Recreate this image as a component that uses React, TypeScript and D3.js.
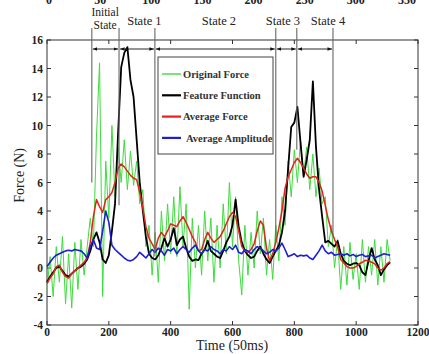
import React from "react";
import * as d3 from "d3";

const W = 429;
const H = 354;

// time axis samples (units of 50 ms), one every 10
const times = d3.range(0, 1111, 10);

const originalForce = [
  -1.5, 0.8, -2.0, 1.5, -1.0, 2.2, -2.5, 1.0, -2.8, 1.8,
  -1.5, 2.0, -0.5, 1.5, 3.5, 1.5, 9.2, 14.4, -2.0, 7.5,
  3.5, 10.0, 5.0, 8.5, 6.0, 9.0, 5.5, 8.2, 5.8, 7.5,
  4.5, 5.5, 1.5, 3.0, -0.5, 2.5, -1.0, 4.0, 0.5, 4.5,
  1.0, 5.0, 0.8, 5.7, 1.5, 4.5, -2.9, 3.5, 0.0, 3.0,
  -0.5, 4.0, 0.5, 3.5, -1.0, 3.0, 0.0, 4.5, 1.0, 6.0,
  1.5, 5.0, 0.5, -1.9, 3.0, -0.5, 2.5, 0.0, 4.0, 1.0,
  3.5, -0.5, 2.0, -0.8, 3.0, 0.5, 5.0, 3.0, 7.5, 5.0,
  8.3, 6.0, 9.0, 6.5, 8.5, 5.5, 8.0, 5.0, 7.0, 4.5,
  5.0, 1.5, 3.0, 0.0, 2.0, -1.5, 1.5, -1.2, 1.8, -0.8,
  1.0, -1.5, 2.0, -1.0, 1.5, -0.5, 2.0, -1.2, 1.5, -1.0,
  2.0, 0.5,
];

const featureFunction = [
  -1.0, -0.6, -0.3, 0.0, 0.1, -0.2, -0.5, -0.6, -0.4, -0.2,
  0.0, 0.1, 0.3, 0.6, 1.2, 2.0, 2.5, 1.8, 0.6, 0.35,
  0.9, 2.6, 4.5, 9.5, 14.1, 15.1, 15.5, 13.2, 12.0, 9.0,
  6.0, 4.0, 2.2, 1.0, 0.7, 0.6, 0.9, 1.4, 2.1, 1.5,
  2.0, 2.8, 1.6, 2.0, 2.2, 1.4, 0.8, 0.5, 0.6, 0.55,
  1.0, 1.3, 1.9, 1.2, 1.0, 0.8, 0.7, 1.2, 1.8, 2.2,
  3.0, 4.8, 2.9, 1.8, 1.2, 0.9, 0.7, 0.8, 1.2, 1.5,
  1.0, 0.6, 0.35, 0.8, 1.2, 1.6, 2.5, 4.0, 7.0, 9.9,
  10.2, 11.3, 8.8, 6.4, 7.6, 9.0, 13.1, 8.5, 5.5, 3.6,
  1.8, 1.9, 1.7, 1.5, 1.9, 1.0, 0.5, 0.3, 0.2, 0.3,
  0.35, 0.2, -0.3, -0.5, 0.5, 1.4, 0.6, 0.2, -0.5, -0.1,
  0.2, 0.4,
];

const averageForce = [
  -1.1, -0.7, -0.4, 0.1, 0.2, -0.3, -0.6, -0.7, -0.4, -0.2,
  0.0, 0.2, 0.4, 0.7, 1.8, 3.6, 4.8, 4.3, 3.9, 4.8,
  5.0, 5.3, 6.0, 7.0, 7.3, 7.1, 6.8, 6.5, 6.3, 6.2,
  5.3, 4.2, 2.9, 2.1, 1.7, 1.3, 2.1, 2.5, 2.2, 2.6,
  3.1, 3.0, 2.9, 3.3, 3.6, 3.2, 2.7, 2.2, 1.8, 1.2,
  1.3, 2.0, 2.5, 2.1, 1.8, 2.0, 2.2, 2.6, 3.1, 3.6,
  3.9, 3.6, 2.6, 1.5, 1.2, 1.1, 1.3, 1.7, 2.6, 3.3,
  3.0, 1.4, 0.5, 1.0, 1.8, 2.8, 4.0, 5.6, 6.4, 6.9,
  7.4, 7.7, 7.4, 7.0, 6.6, 6.3, 6.4, 6.4, 6.0, 5.4,
  4.4, 3.4, 2.6, 2.0, 1.5, 0.6, 0.35, 0.1, 0.0, 0.0,
  0.1, 0.3, 0.4, 0.55, 0.5, 0.4, 0.3, 0.0, -0.15, 0.0,
  0.3, 0.45,
];

const averageAmplitude = [
  0.1, 0.4, 0.7, 0.9, 1.0, 1.1, 1.2, 1.25, 1.2, 1.3,
  1.25, 1.2, 1.0, 0.7, 1.5, 2.0, 1.4, 1.3, 2.6, 4.0,
  3.2, 1.6, 1.3, 1.1, 0.9, 0.7, 0.55, 0.5, 0.6, 0.8,
  1.1, 0.9, 0.7, 1.0, 1.3, 1.1, 1.4, 1.2, 0.9, 1.3,
  1.2, 1.4, 1.0, 1.3, 1.5, 1.3, 1.1, 1.4, 1.6, 1.2,
  1.0, 1.3, 1.2, 1.5, 1.3, 1.2, 1.0, 1.3, 1.2, 1.5,
  1.3, 1.6, 1.1, 1.0, 1.3, 1.2, 1.0, 1.3, 1.5, 1.4,
  1.2, 1.0, 1.1, 1.3, 1.2, 1.4, 1.75, 1.3, 0.8, 0.9,
  1.0, 0.8, 0.9, 0.85, 0.9, 0.7, 0.6, 0.9, 1.2, 1.6,
  1.2, 1.0, 1.1, 0.9, 0.95, 1.0, 0.9, 1.0, 0.85, 0.95,
  0.8, 0.9, 0.95, 0.8, 0.85, 0.9, 0.7, 0.8, 0.9, 1.0,
  0.95, 0.9,
];

const yTicks = [-4, -2, 0, 2, 4, 6, 8, 10, 12, 14, 16];
const xTicks = [0, 200, 400, 600, 800, 1000, 1200];
const topTicks = [0, 50, 100, 150, 200, 250, 300, 350];

// state boundaries (time) and where each boundary line ends (force)
const stateBounds = [145, 233, 349, 740, 808, 925];
const stateLineEnds = [6.0, 4.4, 0.8, 1.8, 8.3, 2.3];
const stateNames = ["State 1", "State 2", "State 3", "State 4"];
const stateLabelT = [315, 556, 763, 909];
const initialLabelT = 188;

const legendNames = ["Original Force", "Feature Function", "Average Force", "Average Amplitude"];
const colors = ["#3ddc3d", "#000000", "#e3231c", "#1f1fd0"];
const widths = [1, 1.8, 1.5, 1.6];

const FONT = "'Liberation Serif', 'Times New Roman', serif";

export default function App() {
  const x = d3.scaleLinear().domain([0, 1200]).range([47, 418]);
  const y = d3.scaleLinear().domain([-4, 16]).range([325, 40]);
  const topX = d3.scaleLinear().domain([0, 350]).range([49, 407]);

  const line = d3
    .line<number>()
    .x((_, i) => x(times[i]))
    .y((d) => y(d));

  const series = [originalForce, featureFunction, averageForce, averageAmplitude];

  const x0 = x(0), x1 = x(1200), y0 = y(-4), y1 = y(16);
  const stateTop = 28;
  const arrowY = 49;

  return (
    <svg
      width={W}
      height={H}
      style={{ position: "absolute", left: 0, top: 0, background: "#fff" }}
      fontFamily={FONT}
    >
      <defs>
        <marker id="ah" viewBox="0 0 10 10" refX="10" refY="5" markerWidth="5" markerHeight="5" orient="auto-start-reverse">
          <path d="M0,1 L10,5 L0,9 Z" fill="#111" />
        </marker>
      </defs>

      {/* partially cut top axis from a figure above */}
      {topTicks.map((t) => (
        <text key={"tt" + t} x={topX(t)} y={3.5} fontSize={12} fontWeight="bold" textAnchor="middle" fill="#222">
          {t}
        </text>
      ))}

      {/* plot box */}
      <rect x={x0} y={y1} width={x1 - x0} height={y0 - y1} fill="none" stroke="#333" strokeWidth={1} />

      {/* ticks */}
      {yTicks.map((v) => (
        <g key={"yt" + v}>
          <line x1={x0} x2={x0 + 4} y1={y(v)} y2={y(v)} stroke="#333" />
          <line x1={x1} x2={x1 - 4} y1={y(v)} y2={y(v)} stroke="#333" />
          <text x={x0 - 4} y={y(v)} dy="0.35em" fontSize={11.5} fontWeight="bold" textAnchor="end" fill="#222">
            {v}
          </text>
        </g>
      ))}
      {xTicks.map((t) => (
        <g key={"xt" + t}>
          <line x1={x(t)} x2={x(t)} y1={y0} y2={y0 - 4} stroke="#333" />
          <line x1={x(t)} x2={x(t)} y1={y1} y2={y1 + 4} stroke="#333" />
          <text x={x(t)} y={y0 + 11} fontSize={11.5} fontWeight="bold" textAnchor="middle" fill="#222">
            {t}
          </text>
        </g>
      ))}

      {/* axis titles */}
      <text x={232} y={350} fontSize={14} textAnchor="middle" fill="#222">Time (50ms)</text>
      <text transform={`translate(24,${y(6.5)}) rotate(-90)`} fontSize={14} textAnchor="middle" fill="#222">
        Force (N)
      </text>

      {/* series */}
      {series.map((s, i) => (
        <path key={"s" + i} d={line(s) || ""} fill="none" stroke={colors[i]} strokeWidth={widths[i]} strokeLinejoin="round" />
      ))}

      {/* state boundary lines */}
      {stateBounds.map((t, i) => (
        <line key={"sb" + i} x1={x(t)} x2={x(t)} y1={stateTop} y2={y(stateLineEnds[i])} stroke="#666" strokeWidth={1.1} />
      ))}
      {stateBounds.slice(0, -1).map((t, i) => (
        <line
          key={"ar" + i}
          x1={x(t) + 1}
          x2={x(stateBounds[i + 1]) - 1}
          y1={arrowY}
          y2={arrowY}
          stroke="#111"
          strokeWidth={0.9}
          markerStart="url(#ah)"
          markerEnd="url(#ah)"
        />
      ))}

      {/* state labels */}
      <text x={x(initialLabelT)} y={16} fontSize={11.5} textAnchor="middle" fill="#222">Initial</text>
      <text x={x(initialLabelT)} y={29} fontSize={11.5} textAnchor="middle" fill="#222">State</text>
      {stateNames.map((n, i) => (
        <text key={n} x={x(stateLabelT[i])} y={25} fontSize={12.5} textAnchor="middle" fill="#222">
          {n}
        </text>
      ))}

      {/* legend */}
      <rect x={158} y={57} width={115} height={97} fill="#fff" stroke="#444" strokeWidth={1} />
      {legendNames.map((n, i) => (
        <g key={n} transform={`translate(0,${74 + i * 21.3})`}>
          <line x1={162} x2={181} y1={0} y2={0} stroke={colors[i]} strokeWidth={i === 0 ? 1.4 : 2.2} />
          <text x={i === 3 ? 186 : 183} y={0} dy="0.35em" fontSize={10.5} fontWeight="bold" fill="#333">
            {n}
          </text>
        </g>
      ))}
    </svg>
  );
}
